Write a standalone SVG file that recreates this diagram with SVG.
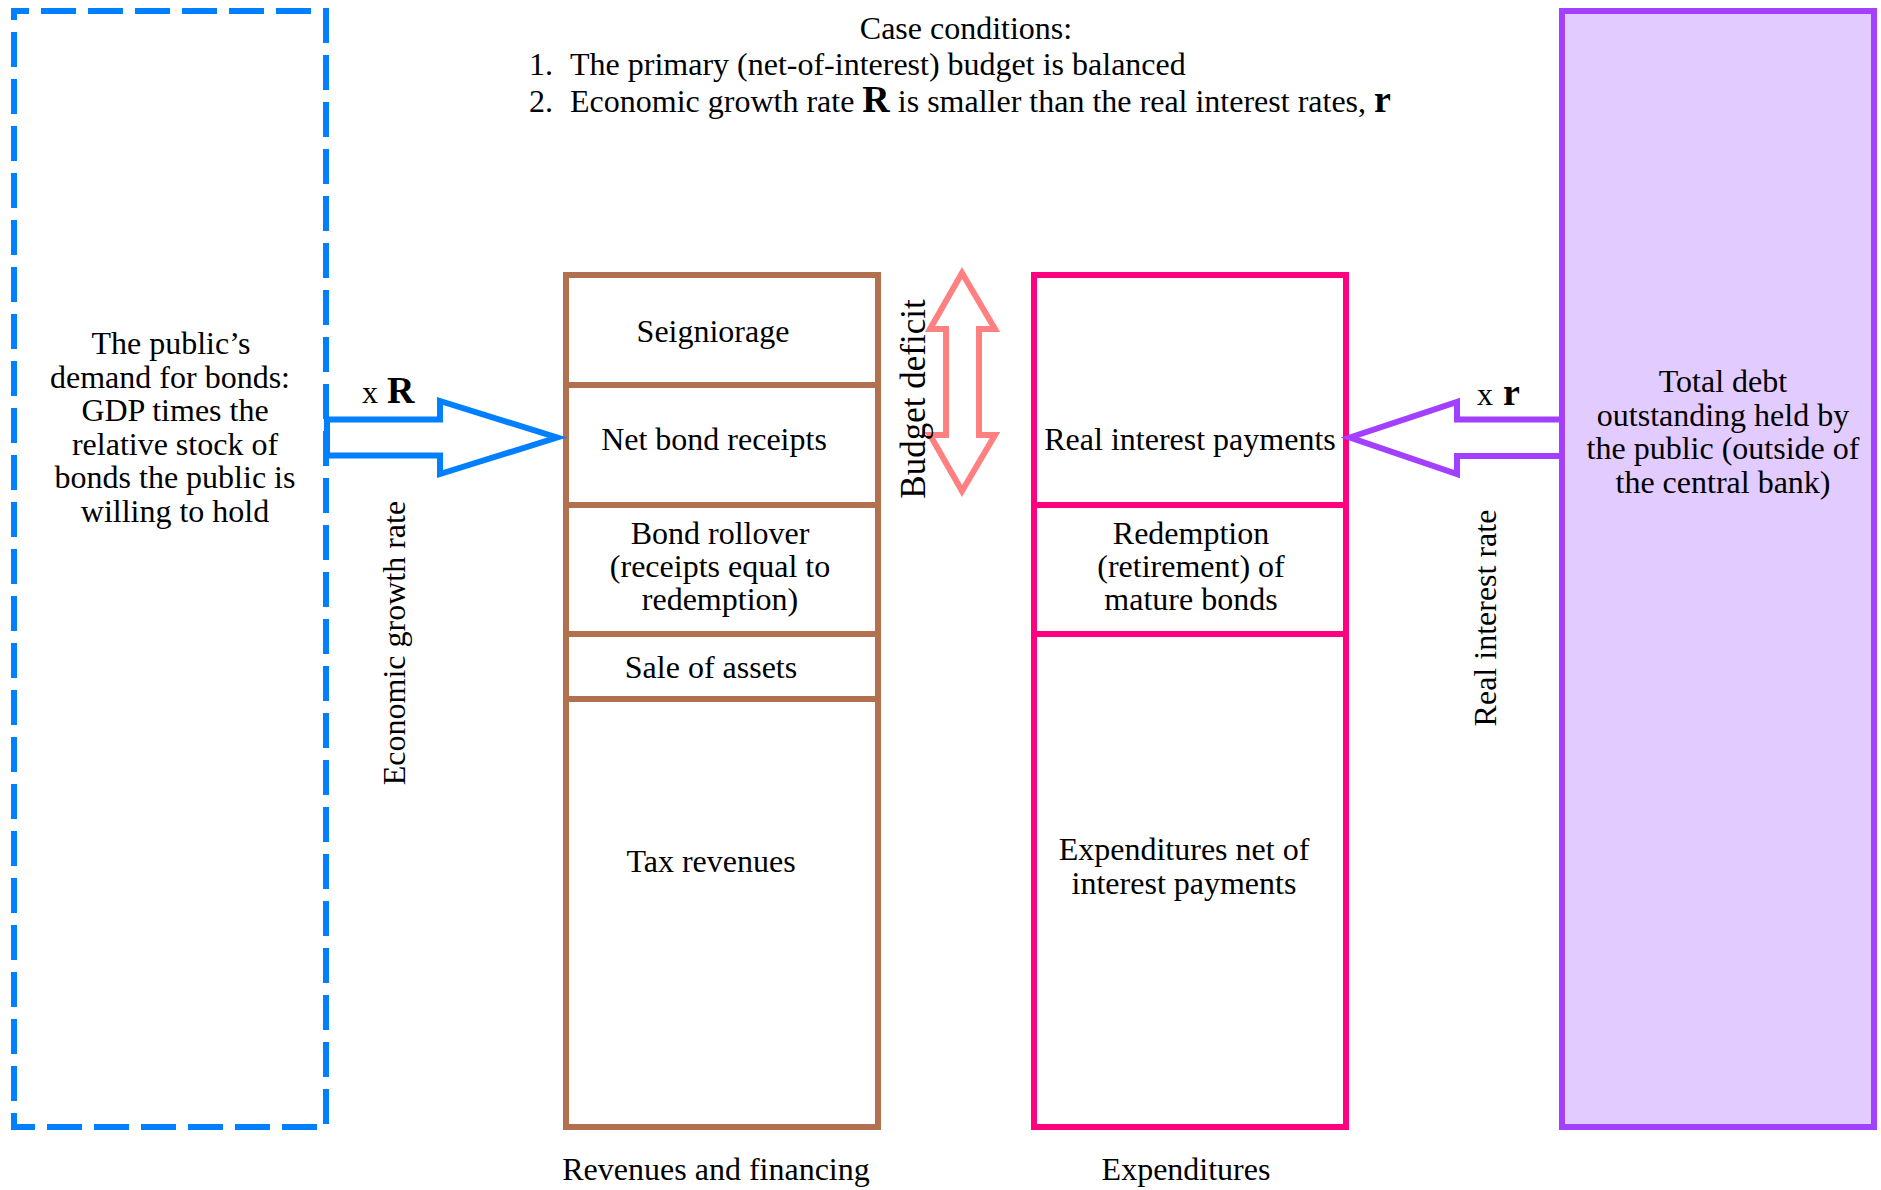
<svg xmlns="http://www.w3.org/2000/svg" width="1881" height="1190" viewBox="0 0 1881 1190">
<style>
text { font-family: "Liberation Serif", "Times New Roman", serif; font-size: 32px; fill: #000; }
.c { text-anchor: middle; }
.big { font-weight: bold; font-size: 38px; }
.bd { font-size: 35px; }
.brown { fill: #fff; stroke: #B1714F; stroke-width: 6; }
.brownl { stroke: #B1714F; stroke-width: 6; }
.pink { fill: #fff; stroke: #FF0080; stroke-width: 6; }
.pinkl { stroke: #FF0080; stroke-width: 6; }
</style>
<rect x="0" y="0" width="1881" height="1190" fill="#fff"/>

<g id="conditions">
<text class="c" x="966" y="39">Case conditions:</text>
<text x="529" y="75">1.</text>
<text x="570" y="75">The primary (net-of-interest) budget is balanced</text>
<text x="529" y="112">2.</text>
<text x="570" y="112">Economic growth rate <tspan class="big">R</tspan> is smaller than the real interest rates, <tspan class="big">r</tspan></text>
</g>

<g id="public-demand">
<rect x="14" y="11" width="312" height="1116" fill="none" stroke="#0080FF" stroke-width="6" stroke-dasharray="35 12" stroke-dashoffset="20"/>
<text class="c" x="171" y="354">The public’s</text>
<text class="c" x="170" y="388">demand for bonds:</text>
<text class="c" x="175" y="421">GDP times the</text>
<text class="c" x="175" y="455">relative stock of</text>
<text class="c" x="175" y="488">bonds the public is</text>
<text class="c" x="175" y="522">willing to hold</text>
</g>

<g id="revenues">
<rect class="brown" x="566" y="275" width="312" height="852"/>
<line class="brownl" x1="566" y1="385" x2="878" y2="385"/>
<line class="brownl" x1="566" y1="505" x2="878" y2="505"/>
<line class="brownl" x1="566" y1="634" x2="878" y2="634"/>
<line class="brownl" x1="566" y1="699" x2="878" y2="699"/>
<text class="c" x="713" y="342">Seigniorage</text>
<text class="c" x="714" y="450">Net bond receipts</text>
<text class="c" x="720" y="544">Bond rollover</text>
<text class="c" x="720" y="577">(receipts equal to</text>
<text class="c" x="720" y="610">redemption)</text>
<text class="c" x="711" y="678">Sale of assets</text>
<text class="c" x="711" y="872">Tax revenues</text>
<text class="c" x="716" y="1180">Revenues and financing</text>
</g>

<g id="expenditures">
<rect class="pink" x="1034" y="275" width="312" height="852"/>
<line class="pinkl" x1="1034" y1="505" x2="1346" y2="505"/>
<line class="pinkl" x1="1034" y1="634" x2="1346" y2="634"/>
<text class="c" x="1190" y="450">Real interest payments</text>
<text class="c" x="1191" y="544">Redemption</text>
<text class="c" x="1191" y="577">(retirement) of</text>
<text class="c" x="1191" y="610">mature bonds</text>
<text class="c" x="1184" y="860">Expenditures net of</text>
<text class="c" x="1184" y="894">interest payments</text>
<text class="c" x="1186" y="1180">Expenditures</text>
</g>

<g id="total-debt">
<rect x="1562" y="11" width="312" height="1116" fill="#E2CBFE" stroke="#A33FFF" stroke-width="6"/>
<text class="c" x="1723" y="392">Total debt</text>
<text class="c" x="1723" y="426">outstanding held by</text>
<text class="c" x="1723" y="459">the public (outside of</text>
<text class="c" x="1723" y="493">the central bank)</text>
</g>

<g id="connectors">
<polygon points="327,419.5 440,419.5 440,401 557,437.5 440,474 440,455.5 327,455.5" fill="#fff" stroke="#0080FF" stroke-width="6"/>
<polygon points="1562,419.5 1457,419.5 1457,402 1350,437.5 1457,474 1457,456 1562,456" fill="#fff" stroke="#A33FFF" stroke-width="6"/>
<polygon points="962,273 995,329 979,329 979,435 995,435 962,491 930,435 946,435 946,329 930,329" fill="#fff" stroke="#FF8080" stroke-width="6"/>
<text x="362" y="403">x <tspan class="big" dx="1">R</tspan></text>
<text x="1477" y="405">x <tspan class="big" dx="2">r</tspan></text>
<text class="c" transform="translate(405,643) rotate(-90)">Economic growth rate</text>
<text class="c" transform="translate(1496,618) rotate(-90)">Real interest rate</text>
<text class="c bd" transform="translate(925,399) rotate(-90)">Budget deficit</text>
</g>
</svg>
